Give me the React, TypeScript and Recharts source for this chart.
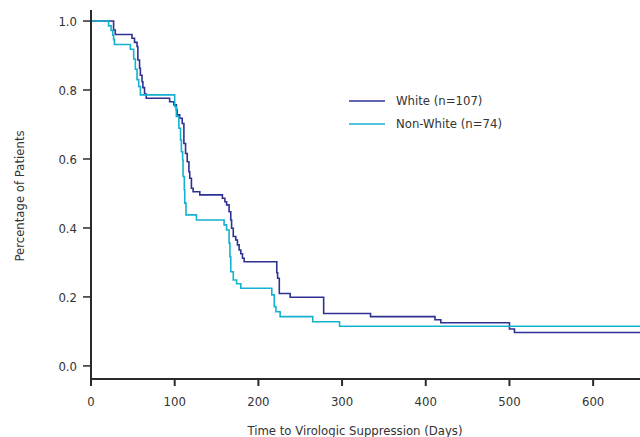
import { LineChart, Line, XAxis, YAxis, Label } from 'recharts'

// Kaplan-Meier estimates
const whiteDays = [0, 27, 29, 49, 52, 55, 56, 58, 59, 61, 62, 64, 66, 94, 99, 102, 103, 106, 109, 111, 113, 115, 117, 118, 120, 122, 130, 157, 160, 162, 165, 167, 168, 170, 173, 175, 177, 179, 181, 183, 222, 223, 225, 238, 278, 334, 411, 418, 500, 506, 656]
const whiteSurvival = [1.0, 0.974, 0.961, 0.95, 0.938, 0.926, 0.887, 0.863, 0.843, 0.824, 0.807, 0.788, 0.776, 0.766, 0.757, 0.742, 0.728, 0.718, 0.703, 0.645, 0.616, 0.592, 0.563, 0.544, 0.515, 0.505, 0.496, 0.486, 0.476, 0.467, 0.447, 0.423, 0.399, 0.375, 0.365, 0.351, 0.336, 0.325, 0.312, 0.302, 0.27, 0.254, 0.21, 0.199, 0.152, 0.143, 0.134, 0.125, 0.107, 0.097, 0.097]

const nonWhiteDays = [0, 21, 24, 26, 27, 28, 47, 51, 53, 55, 57, 59, 100, 102, 105, 107, 108, 109.5, 110, 111.5, 112, 113.5, 126, 159, 162, 165, 166, 167, 170, 174, 179, 216, 219, 221, 226, 265, 297, 656]
const nonWhiteSurvival = [1.0, 0.986, 0.973, 0.959, 0.946, 0.932, 0.918, 0.89, 0.86, 0.83, 0.81, 0.786, 0.752, 0.723, 0.689, 0.655, 0.621, 0.597, 0.549, 0.51, 0.472, 0.438, 0.423, 0.409, 0.394, 0.356, 0.317, 0.273, 0.249, 0.238, 0.225, 0.206, 0.172, 0.157, 0.143, 0.128, 0.115, 0.115]

const xTicks = [0, 100, 200, 300, 400, 500, 600]
const yTicks = [0, 0.2, 0.4, 0.6, 0.8, 1.0]

const FONT = "'Liberation Sans Narrow', 'Arial Narrow', 'DejaVu Sans Condensed', sans-serif"
const AXIS = '#2a2a2a'
const WHITE_COLOR = '#2e3192'
const NONWHITE_COLOR = '#14b1d0'

const toPoints = (days: number[], surv: number[]) => days.map((d, i) => ({ day: d, p: surv[i] }))

const whiteData = toPoints(whiteDays, whiteSurvival)
const nonWhiteData = toPoints(nonWhiteDays, nonWhiteSurvival)

const legendItems = [
  { name: 'White (n=107)', color: WHITE_COLOR },
  { name: 'Non-White (n=74)', color: NONWHITE_COLOR },
]

export default function App() {
  return (
    <div style={{ position: 'absolute', left: 0, top: 0, width: 640, height: 437, background: '#fff' }}>
      <LineChart width={640} height={437} margin={{ top: 10, right: 0, left: 0, bottom: 0 }}>
        <XAxis
          type="number"
          dataKey="day"
          domain={[0, 656]}
          ticks={xTicks}
          allowDataOverflow
          height={58}
          tickSize={7}
          tickMargin={11}
          axisLine={{ stroke: AXIS, strokeWidth: 2 }}
          tickLine={{ stroke: AXIS, strokeWidth: 2 }}
          tick={{ fontSize: 13, fill: '#333', fontFamily: FONT }}
        >
          <Label
            content={() => (
              <text x={355} y={435} textAnchor="middle" fontSize={13} fill="#333" fontFamily={FONT}>
                Time to Virologic Suppression (Days)
              </text>
            )}
          />
        </XAxis>
        <YAxis
          type="number"
          domain={[-0.038, 1.032]}
          ticks={yTicks}
          allowDataOverflow
          width={91}
          tickSize={8}
          tickMargin={6}
          tickFormatter={(v: number) => v.toFixed(1)}
          axisLine={{ stroke: AXIS, strokeWidth: 2 }}
          tickLine={{ stroke: AXIS, strokeWidth: 1.5 }}
          tick={{ fontSize: 13, fill: '#333', fontFamily: FONT }}
        >
          <Label
            content={() => (
              <text
                x={24}
                y={196}
                transform="rotate(-90 24 196)"
                textAnchor="middle"
                fontSize={13}
                fill="#333"
                fontFamily={FONT}
              >
                Percentage of Patients
              </text>
            )}
          />
        </YAxis>
        <Line
          data={whiteData}
          dataKey="p"
          name="White (n=107)"
          type="stepAfter"
          stroke={WHITE_COLOR}
          strokeWidth={1.6}
          dot={false}
          isAnimationActive={false}
        />
        <Line
          data={nonWhiteData}
          dataKey="p"
          name="Non-White (n=74)"
          type="stepAfter"
          stroke={NONWHITE_COLOR}
          strokeWidth={1.6}
          dot={false}
          isAnimationActive={false}
        />
      </LineChart>
      <div style={{ position: 'absolute', left: 349, top: 89, fontFamily: FONT, fontSize: 13, color: '#333' }}>
        {legendItems.map((item) => (
          <div key={item.name} style={{ display: 'flex', alignItems: 'center', height: 23 }}>
            <svg width={36} height={4} style={{ marginRight: 11 }}>
              <line x1={0} y1={2} x2={36} y2={2} stroke={item.color} strokeWidth={1.6} />
            </svg>
            <span>{item.name}</span>
          </div>
        ))}
      </div>
    </div>
  )
}
